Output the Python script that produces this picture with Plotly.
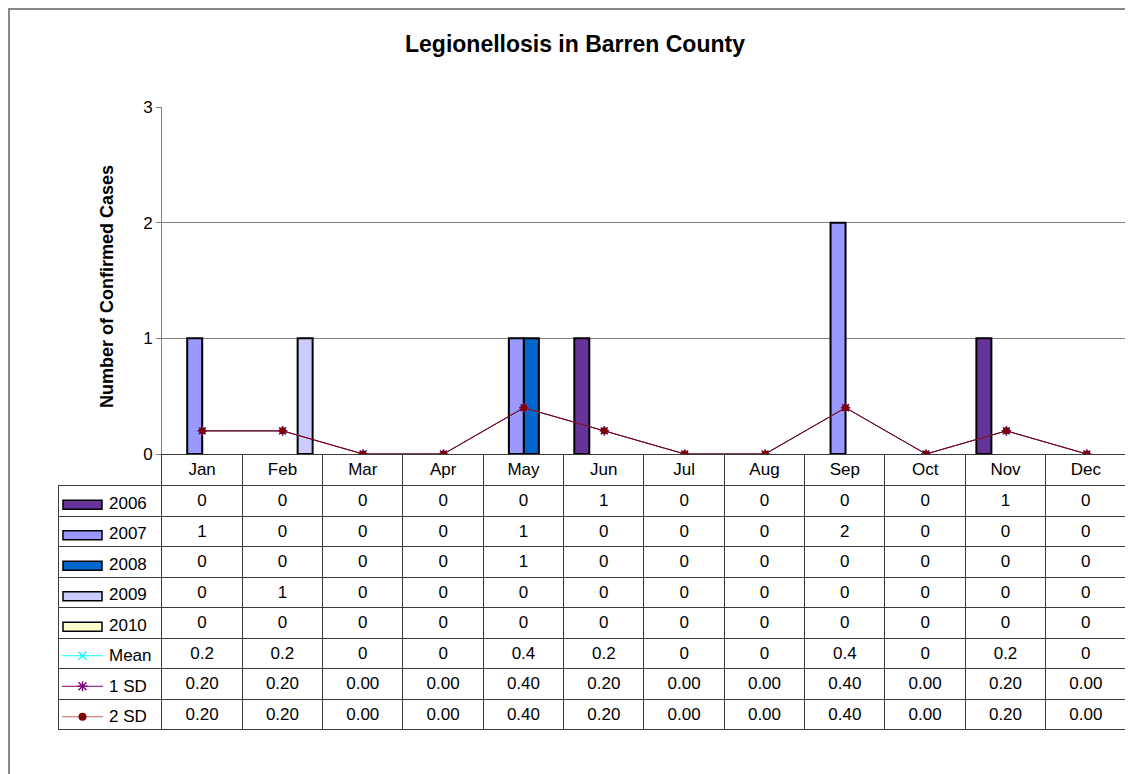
import plotly.graph_objects as go

OFF = 8  # page body margin
W, H = 1133 - OFF, 774 - OFF

months = ['Jan', 'Feb', 'Mar', 'Apr', 'May', 'Jun', 'Jul', 'Aug', 'Sep', 'Oct', 'Nov', 'Dec']
years = ['2006', '2007', '2008', '2009', '2010']
y2006 = [0, 0, 0, 0, 0, 1, 0, 0, 0, 0, 1, 0]
y2007 = [1, 0, 0, 0, 1, 0, 0, 0, 2, 0, 0, 0]
y2008 = [0, 0, 0, 0, 1, 0, 0, 0, 0, 0, 0, 0]
y2009 = [0, 1, 0, 0, 0, 0, 0, 0, 0, 0, 0, 0]
y2010 = [0, 0, 0, 0, 0, 0, 0, 0, 0, 0, 0, 0]
mean = [0.2, 0.2, 0, 0, 0.4, 0.2, 0, 0, 0.4, 0, 0.2, 0]
sd1 = [0.2, 0.2, 0, 0, 0.4, 0.2, 0, 0, 0.4, 0, 0.2, 0]
sd2 = [0.2, 0.2, 0, 0, 0.4, 0.2, 0, 0, 0.4, 0, 0.2, 0]
line_names = ['Mean', '1 SD', '2 SD']

bar_series = [y2006, y2007, y2008, y2009, y2010]
bar_colors = ['#663399', '#9999FF', '#0066CC', '#CCCCFF', '#FFFFCC']
FONT = 'Arial, Liberation Sans, sans-serif'
FS = 17


def px(x):
    return (x - OFF) / W


def py(y):
    return 1 - (y - OFF) / H


fig = go.Figure()

# bars: 15px wide slots, category = 80.4px
bw = 15 / 80.4
for i, (name, vals) in enumerate(zip(years, bar_series)):
    # no outline on zero-height bars, so the axis line stays clean
    outline = [2 if v else 0 for v in vals]
    fig.add_trace(go.Bar(x=months, y=vals, name=name, width=bw, offset=(i - 2) * bw,
                         marker=dict(color=bar_colors[i], line=dict(color='black', width=outline))))

fig.add_trace(go.Scatter(x=months, y=mean, name='Mean', mode='lines+markers',
                         line=dict(color='#00FFFF', width=1),
                         marker=dict(symbol='x-thin', size=7, line=dict(color='#00FFFF', width=1.5))))
fig.add_trace(go.Scatter(x=months, y=sd1, name='1 SD', mode='lines+markers',
                         line=dict(color='#800080', width=1),
                         marker=dict(symbol='asterisk', size=8, line=dict(color='#800080', width=1.5))))
fig.add_trace(go.Scatter(x=months, y=sd2, name='2 SD', mode='lines+markers',
                         line=dict(color='#8B0000', width=1),
                         marker=dict(symbol='circle', size=7, color='#800000')))

# data table under the chart
rows = [[str(v) for v in s] for s in bar_series]
rows.append([f'{v:g}' for v in mean])
rows.append([f'{v:.2f}' for v in sd1])
rows.append([f'{v:.2f}' for v in sd2])
columns = [[''] * len(rows)] + [[r[j] for r in rows] for j in range(len(months))]

tline = '#3a3a3a'
fig.add_trace(go.Table(
    domain=dict(x=[px(58), px(1126)], y=[py(731), py(454)]),
    columnwidth=[104] + [80.4] * 12,
    header=dict(values=[''] + months, height=31.7, align='center',
                fill_color='rgba(0,0,0,0)',
                line=dict(color=['rgba(0,0,0,0)'] + [tline] * 12, width=1),
                font=dict(family=FONT, size=FS, color='black')),
    cells=dict(values=columns, height=30.5, align='center', fill_color='white',
               line=dict(color=tline, width=1),
               font=dict(family=FONT, size=FS, color='black')),
))

shapes = []
annotations = []
# legend keys in first column
row_top = 486
rh = 30.5
for i, name in enumerate(years + line_names):
    cy = row_top + rh * (i + 0.5)
    if i < 5:
        shapes.append(dict(type='rect', xref='paper', yref='paper', x0=px(63), x1=px(102),
                           y0=py(cy - 1), y1=py(cy + 8), fillcolor=bar_colors[i],
                           line=dict(color='black', width=1.5)))
    else:
        lc = ['#00FFFF', '#800080', '#C06060'][i - 5]
        mc = ['#00FFFF', '#800080', '#800000'][i - 5]
        shapes.append(dict(type='line', xref='paper', yref='paper', x0=px(62), x1=px(103),
                           y0=py(cy + 2), y1=py(cy + 2), line=dict(color=lc, width=1)))
        mx, my = 82.5, cy + 2
        if i == 5:
            for d in (1, -1):
                shapes.append(dict(type='line', xref='paper', yref='paper', x0=px(mx - 4), x1=px(mx + 4),
                                   y0=py(my - 4 * d), y1=py(my + 4 * d), line=dict(color=mc, width=1.5)))
        elif i == 6:
            for (dx, dy) in ((4, 4), (4, -4), (0, 5), (5, 0)):
                shapes.append(dict(type='line', xref='paper', yref='paper', x0=px(mx - dx), x1=px(mx + dx),
                                   y0=py(my - dy), y1=py(my + dy), line=dict(color=mc, width=1.5)))
        else:
            shapes.append(dict(type='circle', xref='paper', yref='paper', x0=px(mx - 4), x1=px(mx + 4),
                               y0=py(my - 4), y1=py(my + 4), fillcolor=mc, line=dict(color=mc, width=0)))
    annotations.append(dict(text=name, xref='paper', yref='paper', x=px(107), y=py(cy + 2),
                            xanchor='left', yanchor='middle', showarrow=False,
                            font=dict(family=FONT, size=FS, color='black')))

# outer chart border (left and top edges visible)
shapes.append(dict(type='rect', xref='paper', yref='paper', x0=px(9), x1=px(1160),
                   y0=py(9), y1=py(800), line=dict(color='#888888', width=2), layer='below'))

annotations.append(dict(text='<b>Legionellosis in Barren County</b>', xref='paper', yref='paper',
                        x=px(575), y=py(44), xanchor='center', yanchor='middle', showarrow=False,
                        font=dict(family=FONT, size=23, color='black')))
annotations.append(dict(text='<b>Number of Confirmed Cases</b>', xref='paper', yref='paper',
                        x=px(107), y=py(287), xanchor='center', yanchor='middle', showarrow=False,
                        textangle=-90, font=dict(family=FONT, size=18, color='black')))

fig.update_layout(
    width=W, height=H,
    margin=dict(l=0, r=0, t=0, b=0, autoexpand=False),
    paper_bgcolor='white', plot_bgcolor='white',
    showlegend=False,
    barmode='overlay',
    shapes=shapes, annotations=annotations,
    xaxis=dict(domain=[px(162), px(1127)], type='category', range=[-0.5, 11.5],
               showticklabels=False, showgrid=False, showline=True, linecolor='#808080',
               linewidth=1, ticks='', automargin=False),
    yaxis=dict(domain=[py(454), py(107)], range=[0, 3], dtick=1, showgrid=True,
               gridcolor='#808080', gridwidth=1, showline=True, linecolor='#808080',
               ticks='outside', ticklen=5, tickcolor='#808080', zeroline=False,
               automargin=False, tickfont=dict(family=FONT, size=FS, color='black')),
)

fig.write_html('out.html')
